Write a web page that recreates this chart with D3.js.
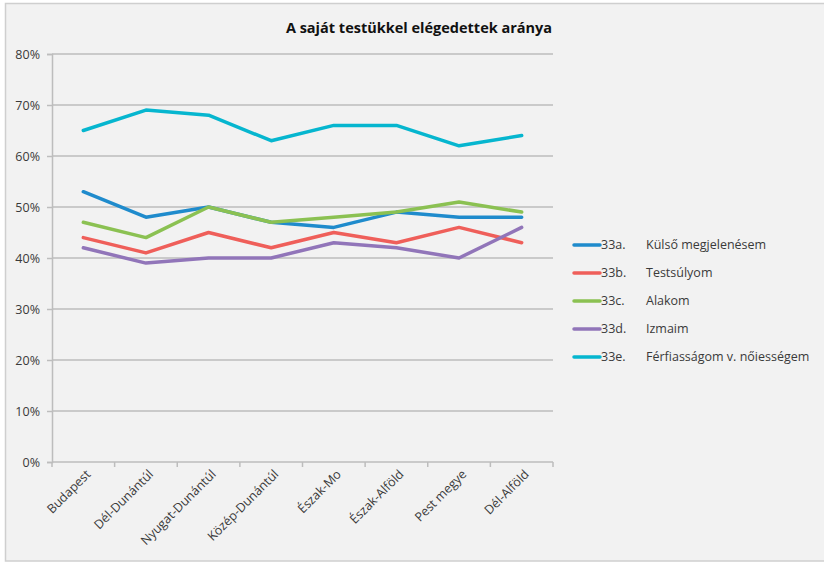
<!DOCTYPE html>
<html>
<head>
<meta charset="utf-8">
<script src="https://cdn.jsdelivr.net/npm/d3@7"></script>
<style>
  html, body { margin: 0; padding: 0; background: #ffffff; }
  svg { display: block; }
  text { font-family: "Open Sans", "Noto Sans", sans-serif; fill: #333; }
</style>
</head>
<body>
<svg id="chart" width="824" height="562"></svg>
<script>
// Regions surveyed
const regions = ["Budapest", "Dél-Dunántúl", "Nyugat-Dunántúl", "Közép-Dunántúl",
                 "Észak-Mo", "Észak-Alföld", "Pest megye", "Dél-Alföld"];

// Share satisfied with own body, percent, by question item
const kulso      = [53, 48, 50, 47, 46, 49, 48, 48];
const testsuly   = [44, 41, 45, 42, 45, 43, 46, 43];
const alak       = [47, 44, 50, 47, 48, 49, 51, 49];
const izom       = [42, 39, 40, 40, 43, 42, 40, 46];
const ferfiassag = [65, 69, 68, 63, 66, 66, 62, 64];

const seriesCodes  = ["33a.", "33b.", "33c.", "33d.", "33e."];
const seriesNames  = ["Külső megjelenésem", "Testsúlyom", "Alakom", "Izmaim", "Férfiasságom v. nőiességem"];
const seriesColors = ["#1f8bcc", "#ef5f5a", "#8bc152", "#9175b9", "#06b6cf"];
const seriesValues = [kulso, testsuly, alak, izom, ferfiassag];

const yTicks = [0, 10, 20, 30, 40, 50, 60, 70, 80];

const svg = d3.select("#chart");

// chart frame
svg.append("rect").attr("x", 0).attr("y", 0).attr("width", 824).attr("height", 562).attr("fill", "#ffffff");
svg.append("rect").attr("x", 5.5).attr("y", 3.5).attr("width", 830).attr("height", 557.5)
  .attr("fill", "#f2f2f2").attr("stroke", "#cfcfcf").attr("stroke-width", 1.5);

const m = { left: 52, right: 553, top: 54, bottom: 462 };

const x = d3.scaleBand().domain(regions).range([m.left, m.right]);
const y = d3.scaleLinear().domain([0, 80]).range([m.bottom, m.top]);

// title
svg.append("text").attr("x", 419).attr("y", 33).attr("text-anchor", "middle")
  .style("font-size", "14.5px").style("font-weight", "bold").style("fill", "#111")
  .text("A saját testükkel elégedettek aránya");

// horizontal gridlines
svg.append("g").selectAll("line").data(yTicks.filter(d => d > 0)).join("line")
  .attr("x1", m.left).attr("x2", m.right)
  .attr("y1", d => y(d)).attr("y2", d => y(d))
  .attr("stroke", "#bdbdbd").attr("stroke-width", 1.5);

// y axis
const yAxis = svg.append("g").attr("transform", `translate(${m.left},0)`)
  .call(d3.axisLeft(y).tickValues(yTicks).tickFormat(d => d + "%").tickSize(5).tickPadding(7));
yAxis.select(".domain").attr("stroke", "#bdbdbd").attr("stroke-width", 1.5);
yAxis.selectAll(".tick line").attr("stroke", "#bdbdbd").attr("stroke-width", 1.5);
yAxis.selectAll("text").style("font-size", "12.5px").style("fill", "#3a3a3a")
  .style("font-family", "'Open Sans', sans-serif");

// x axis with ticks at band edges
const xAxisG = svg.append("g").attr("transform", `translate(0,${m.bottom})`);
xAxisG.append("line").attr("x1", m.left).attr("x2", m.right).attr("y1", 0).attr("y2", 0)
  .attr("stroke", "#bdbdbd").attr("stroke-width", 1.5);
const edges = regions.map(r => x(r)).concat([x(regions[regions.length - 1]) + x.bandwidth()]);
xAxisG.selectAll("line.edge").data(edges).join("line").attr("class", "edge")
  .attr("x1", d => d).attr("x2", d => d).attr("y1", 0).attr("y2", 5)
  .attr("stroke", "#bdbdbd").attr("stroke-width", 1.5);
xAxisG.selectAll("text").data(regions).join("text")
  .attr("transform", d => `translate(${x(d) + x.bandwidth() / 2 + 5},${10}) rotate(-45)`)
  .attr("text-anchor", "end").attr("dy", "0.35em")
  .style("font-size", "12.5px").style("fill", "#3a3a3a")
  .text(d => d);

// series lines
const line = d3.line()
  .x((d, i) => x(regions[i]) + x.bandwidth() / 2)
  .y(d => y(d));

svg.append("g").selectAll("path").data(seriesValues).join("path")
  .attr("d", d => line(d))
  .attr("fill", "none")
  .attr("stroke", (d, i) => seriesColors[i])
  .attr("stroke-width", 3.5)
  .attr("stroke-linejoin", "round")
  .attr("stroke-linecap", "round");

// legend
const legend = svg.append("g");
const rows = legend.selectAll("g").data(seriesCodes).join("g")
  .attr("transform", (d, i) => `translate(574,${245 + i * 28})`);
rows.append("line").attr("x1", 0).attr("x2", 26).attr("y1", 0).attr("y2", 0)
  .attr("stroke", (d, i) => seriesColors[i]).attr("stroke-width", 3.5).attr("stroke-linecap", "round");
rows.append("text").attr("x", 27).attr("y", 0).attr("dy", "0.35em")
  .style("font-size", "12.5px").style("fill", "#3a3a3a").text(d => d);
rows.append("text").attr("x", 72).attr("y", 0).attr("dy", "0.35em")
  .style("font-size", "12.5px").style("fill", "#3a3a3a").text((d, i) => seriesNames[i]);
</script>
</body>
</html>
